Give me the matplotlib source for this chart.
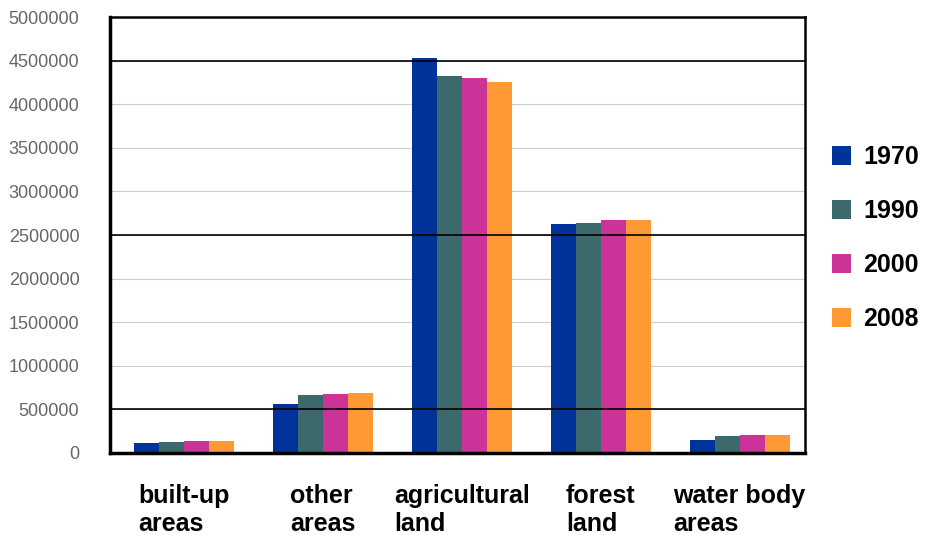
import matplotlib.pyplot as plt
import numpy as np

plt.rcParams["font.family"] = ["Liberation Sans", "DejaVu Sans"]

categories = ["built-up\nareas", "other\nareas", "agricultural\nland", "forest\nland", "water body\nareas"]
years = ["1970", "1990", "2000", "2008"]
v1970 = [110000, 560000, 4530000, 2630000, 150000]
v1990 = [125000, 670000, 4330000, 2640000, 195000]
v2000 = [135000, 676000, 4300000, 2670000, 210000]
v2008 = [135000, 685000, 4260000, 2670000, 210000]
bar_color = ["#003399", "#3c6a6c", "#cc3399", "#ff9933"]
yticks = list(range(0, 5000001, 500000))
dark_lines = [4500000, 2500000, 500000]

fig = plt.figure(figsize=(9.35, 5.35), dpi=100)
ax = fig.add_axes([0.1176, 0.1533, 0.7434, 0.8147])

x = np.arange(len(categories))
w = 0.18
series = [v1970, v1990, v2000, v2008]
for i, vals in enumerate(series):
    ax.bar(x + (i - 1.5) * w + 0.03, vals, w, color=bar_color[i], label=years[i], zorder=2)

ax.set_xlim(-0.5, 4.5)
ax.set_ylim(0, 5000000)
ax.set_yticks(yticks)
ax.set_yticklabels([str(t) for t in yticks], color="#666666", fontsize=13)
ax.tick_params(axis="both", length=0)
ax.tick_params(axis="y", pad=22)
ax.set_xticks(x + 0.03)
ax.set_xticklabels(categories, fontsize=18, fontweight="bold", multialignment="left",
                   linespacing=1.25)
ax.tick_params(axis="x", pad=22)

for t in yticks[1:]:
    ax.axhline(t, color="#cccccc", lw=0.8, zorder=1)
for t in dark_lines:
    ax.axhline(t, color="black", lw=1.2, zorder=3)

for s in ax.spines.values():
    s.set_color("black")
    s.set_linewidth(1.8)
ax.spines["left"].set_linewidth(2.5)
ax.spines["bottom"].set_linewidth(2.5)

fig.legend(loc="center left", bbox_to_anchor=(0.866, 0.555), frameon=False,
           prop={"size": 18, "weight": "bold"}, handlelength=0.75, handleheight=0.75,
           labelspacing=1.2, handletextpad=0.5)

fig.savefig("out.png", dpi=100)
